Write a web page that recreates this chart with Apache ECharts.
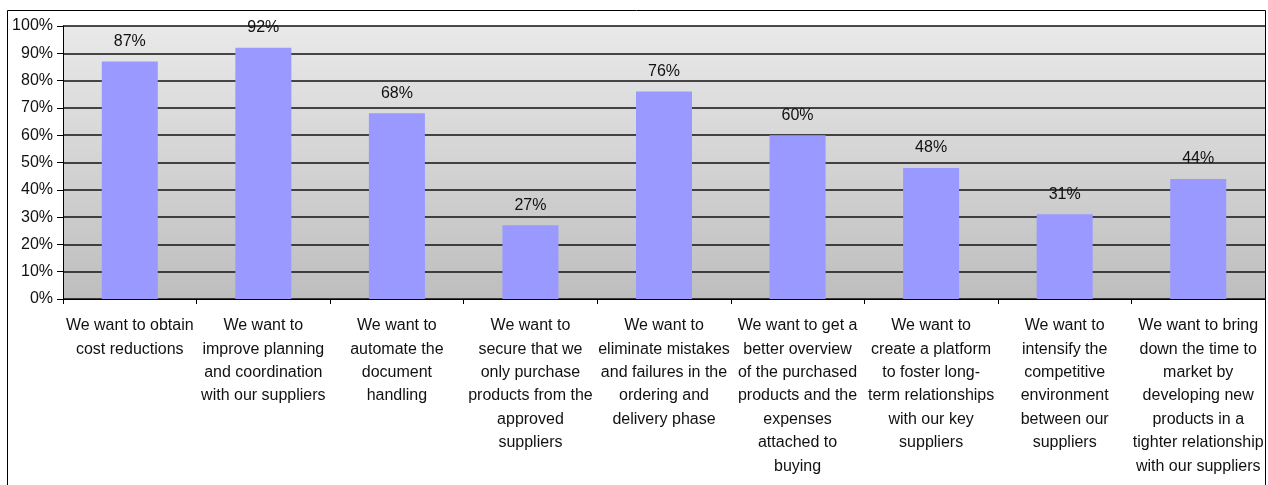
<!DOCTYPE html>
<html>
<head>
<meta charset="utf-8">
<script src="https://cdn.jsdelivr.net/npm/echarts@6/dist/echarts.min.js"></script>
<style>
html,body{margin:0;padding:0;background:#fff;}
#c{width:1268px;height:485px;}
</style>
</head>
<body>
<div id="c"></div>
<script>
const categories = [
  "We want to obtain\ncost reductions",
  "We want to\nimprove planning\nand coordination\nwith our suppliers",
  "We want to\nautomate the\ndocument\nhandling",
  "We want to\nsecure that we\nonly purchase\nproducts from the\napproved\nsuppliers",
  "We want to\neliminate mistakes\nand failures in the\nordering and\ndelivery phase",
  "We want to get a\nbetter overview\nof the purchased\nproducts and the\nexpenses\nattached to\nbuying",
  "We want to\ncreate a platform\nto foster long-\nterm relationships\nwith our key\nsuppliers",
  "We want to\nintensify the\ncompetitive\nenvironment\nbetween our\nsuppliers",
  "We want to bring\ndown the time to\nmarket by\ndeveloping new\nproducts in a\ntighter relationship\nwith our suppliers"
];
const values = [87, 92, 68, 27, 76, 60, 48, 31, 44];
const yTicks = [0, 10, 20, 30, 40, 50, 60, 70, 80, 90, 100];

const chart = echarts.init(document.getElementById('c'), null, {renderer: 'canvas'});
chart.setOption({
  animation: false,
  textStyle: {fontFamily: 'Liberation Sans, Arial, sans-serif'},
  graphic: [{
    type: 'rect',
    shape: {x: 7.5, y: 10.5, width: 1258, height: 490},
    style: {fill: 'none', stroke: '#000', lineWidth: 1},
    z: 100, silent: true
  }],
  grid: {
    left: 63, right: 3, top: 26, bottom: 186,
    show: true,
    borderWidth: 0,
    backgroundColor: {
      type: 'linear', x: 0, y: 0, x2: 0, y2: 1,
      colorStops: [{offset: 0, color: '#e9e9e9'}, {offset: 1, color: '#bebebe'}]
    }
  },
  xAxis: {
    type: 'category',
    data: categories,
    axisLine: {show: true, lineStyle: {color: '#000', width: 1}},
    axisTick: {show: true, length: 5, alignWithLabel: false, lineStyle: {color: '#000'}},
    axisLabel: {
      interval: 0, color: '#111', fontSize: 16, lineHeight: 23.4, margin: 15,
      fontFamily: 'Liberation Sans, Arial, sans-serif', verticalAlign: 'top'
    }
  },
  yAxis: {
    type: 'value', min: 0, max: 100, interval: 10,
    axisLine: {show: true, lineStyle: {color: '#000', width: 1}},
    axisTick: {show: true, length: 6, lineStyle: {color: '#000'}},
    axisLabel: {
      color: '#111', fontSize: 16, margin: 10,
      formatter: v => yTicks.includes(v) ? v + '%' : ''
    },
    splitLine: {show: true, lineStyle: {color: '#111', width: 1.5}}
  },
  series: [{
    type: 'bar',
    data: values,
    barWidth: 56,
    itemStyle: {color: '#9999ff'},
    label: {
      show: true, position: 'top', distance: 12,
      color: '#111', fontSize: 16,
      formatter: p => p.value + '%'
    }
  }]
});
</script>
</body>
</html>
